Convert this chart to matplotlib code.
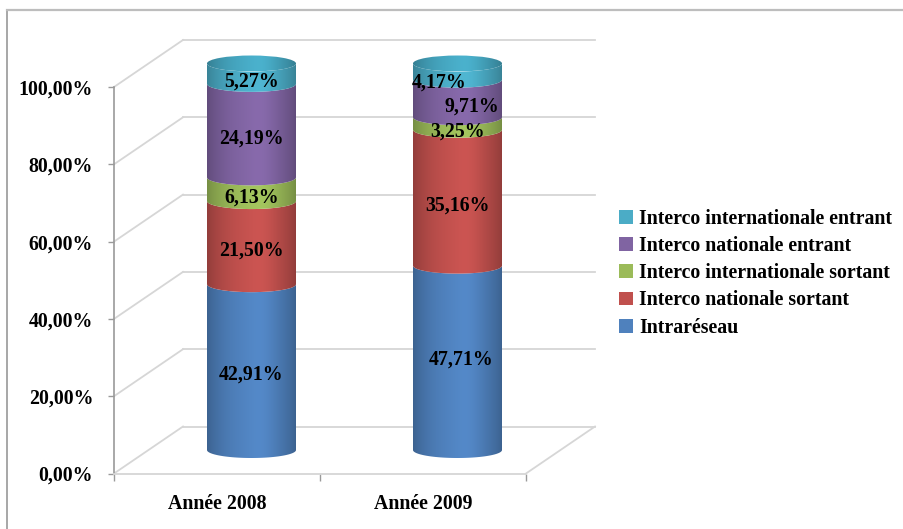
import numpy as np
import matplotlib
matplotlib.use("Agg")
import matplotlib.pyplot as plt
from matplotlib.patches import Patch, PathPatch, Ellipse
from matplotlib.path import Path
from matplotlib.lines import Line2D
from matplotlib.colors import to_rgb

# ---- data -------------------------------------------------------------
categories = ["Année 2008", "Année 2009"]
series_names = [
    "Intraréseau",
    "Interco nationale sortant",
    "Interco internationale sortant",
    "Interco nationale entrant",
    "Interco internationale entrant",
]
intrareseau = [42.91, 47.71]
nat_sortant = [21.50, 35.16]
inter_sortant = [6.13, 3.25]
nat_entrant = [24.19, 9.71]
inter_entrant = [5.27, 4.17]
series_values = [intrareseau, nat_sortant, inter_sortant, nat_entrant, inter_entrant]
series_colors = ["#4F81BD", "#C0504D", "#9BBB59", "#8064A2", "#4BACC6"]
y_ticks = [0, 20, 40, 60, 80, 100]

# ---- styling / layout -------------------------------------------------
FONT = "Liberation Serif"
FS = 14.3
plt.rcParams["font.family"] = [FONT, "DejaVu Serif"]
W, H = 904, 529
fig = plt.figure(figsize=(W / 100, H / 100), dpi=100)
ax = fig.add_axes([0, 0, 1, 1])
ax.patch.set_visible(False)

# axis scale: one category = 206 px, one percent = 3.865 px
PX_X, PX_Y = 206.0, 3.865
X0_PX, Y0_PX = 114.0, 473.5
ax.set_xlim(-X0_PX / PX_X, (W - X0_PX) / PX_X)
ax.set_ylim(-(H - Y0_PX) / PX_Y, Y0_PX / PX_Y)

DX = 69 / PX_X      # depth offset of the back wall
DY = 47 / PX_Y
A = 44.5 / PX_X     # cylinder radius (x units)
B = 8.0 / PX_Y      # ellipse half-height (y units)

grid_c = "#d6d6d6"
axis_c = "#9a9a9a"
ncat = len(categories)

# back wall gridlines and side-wall diagonals
for v in y_ticks:
    ax.plot([DX, ncat + DX], [v + DY, v + DY], color=grid_c, lw=1.3, zorder=1)
    ax.plot([0, DX], [v, v + DY], color=grid_c, lw=1.3, zorder=1)
# floor right edge
ax.plot([ncat, ncat + DX], [0, DY], color=grid_c, lw=1.3, zorder=1)

# axes spines in the front plane
for s in ["top", "right"]:
    ax.spines[s].set_visible(False)
ax.spines["left"].set_position(("data", 0))
ax.spines["bottom"].set_position(("data", 0))
ax.spines["left"].set_bounds(0, 100)
ax.spines["bottom"].set_bounds(0, ncat)
ax.spines["left"].set_color(axis_c)
ax.spines["bottom"].set_color(grid_c)
ax.spines["left"].set_linewidth(1.2)
ax.spines["bottom"].set_linewidth(1.3)

ax.set_yticks(y_ticks)
ax.set_yticklabels([f"{v:.2f}%".replace(".", ",") for v in y_ticks],
                   fontsize=FS, fontweight="bold")
ax.tick_params(axis="y", direction="out", length=4, width=1, color=axis_c, pad=11)
ax.set_xticks(range(ncat + 1))
ax.set_xticklabels([])
ax.tick_params(axis="x", which="major", direction="out", length=5, width=1, color=axis_c)
ax.set_xticks([i + 0.5 for i in range(ncat)], minor=True)
ax.set_xticklabels(categories, minor=True, fontsize=FS, fontweight="bold")
ax.tick_params(axis="x", which="minor", length=0, pad=15)


def shade_strip(color, n=120, boost=0.0):
    u = np.linspace(0, 1, n)
    prof = 0.76 + 0.26 * np.sin(np.pi * u) ** 0.8
    prof += 0.05 * np.exp(-((u - 0.62) / 0.15) ** 2)
    c = np.array(to_rgb(color))
    rgb = np.clip(c[None, :] * prof[:, None] + boost, 0, 1)
    return rgb[None, :, :]


def lower_arc(cx, y, n=60):
    th = np.linspace(0, np.pi, n)
    return np.column_stack([cx - A * np.cos(th), y - B * np.sin(th)])


label_offsets = {(1, 0): (0.02, 1.7), (1, 4): (-0.09, -0.7), (1, 3): (0.07, 0.0)}

for i in range(ncat):
    cx = i + 0.5 + DX / 2
    base = DY / 2
    cum = 0.0
    for k, (vals, col) in enumerate(zip(series_values, series_colors)):
        v = vals[i]
        y0, y1 = base + cum, base + cum + v
        top = lower_arc(cx, y1)
        bot = lower_arc(cx, y0)[::-1]
        verts = np.vstack([top, bot, top[:1]])
        codes = [Path.MOVETO] + [Path.LINETO] * (len(verts) - 2) + [Path.CLOSEPOLY]
        patch = PathPatch(Path(verts, codes), facecolor="none", edgecolor="none",
                          transform=ax.transData)
        ax.add_patch(patch)
        im = ax.imshow(shade_strip(col), extent=[cx - A, cx + A, y0 - B - 0.5, y1 + 0.5],
                       aspect="auto", origin="lower", interpolation="bilinear", zorder=3)
        im.set_clip_path(patch)
        dx, dy = label_offsets.get((i, k), (0, 0))
        ax.text(cx + dx, y0 + v / 2 - B + dy,
                f"{v:.2f}%".replace(".", ","), ha="center", va="center",
                fontsize=FS, fontweight="bold", color="black", zorder=6)
        cum += v
    # top cap of the cylinder
    ytop = base + cum
    cap = Ellipse((cx, ytop), 2 * A, 2 * B, transform=ax.transData,
                  facecolor="none", edgecolor="none")
    ax.add_patch(cap)
    im = ax.imshow(shade_strip(series_colors[-1], boost=-0.02),
                   extent=[cx - A, cx + A, ytop - B, ytop + B],
                   aspect="auto", origin="lower", interpolation="bilinear", zorder=4)
    im.set_clip_path(cap)

ax.set_xlim(-X0_PX / PX_X, (W - X0_PX) / PX_X)
ax.set_ylim(-(H - Y0_PX) / PX_Y, Y0_PX / PX_Y)

# legend, top entry first
handles = [Patch(facecolor=c, edgecolor="none") for c in series_colors][::-1]
leg = ax.legend(handles, series_names[::-1], loc="upper left",
                bbox_to_anchor=(619 / W, 1 - 209 / H), bbox_transform=fig.transFigure,
                frameon=False, prop={"family": FONT, "weight": "bold", "size": FS},
                handlelength=0.7, handleheight=0.7, handletextpad=0.3,
                labelspacing=0.36, borderaxespad=0, borderpad=0)

# chart border (top and left edges visible)
fig.add_artist(Line2D([7 / W, 7 / W], [0, 1 - 10 / H], transform=fig.transFigure,
                      color="#a0a0a0", lw=1.3))
fig.add_artist(Line2D([7 / W, 1], [1 - 10 / H, 1 - 10 / H], transform=fig.transFigure,
                      color="#bdbdbd", lw=1.6))

fig.savefig("out.png", dpi=100)
